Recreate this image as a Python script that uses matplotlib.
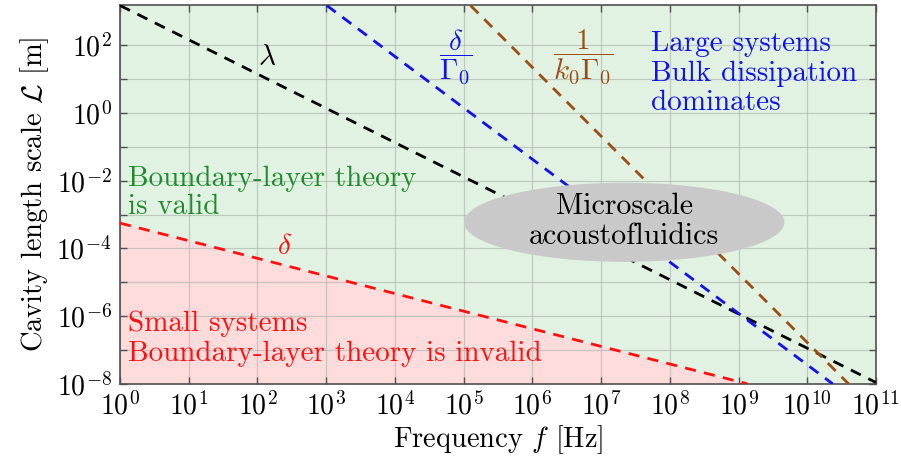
import matplotlib
matplotlib.use("Agg")
import matplotlib.pyplot as plt
from matplotlib.patches import Ellipse

plt.rcParams['font.family'] = 'serif'
plt.rcParams['font.serif'] = ['cmr10']
plt.rcParams['mathtext.fontset'] = 'cm'
plt.rcParams['axes.formatter.use_mathtext'] = True

# end points of each straight (log-log) line
lambda_f = [1e0, 1e11]
lambda_L = [1.5e3, 1.1e-8]
delta_f = [1e0, 1.35e9]
delta_L = [5.6e-4, 1e-8]
dgam_f = [1.02e3, 2.35e10]
dgam_L = [1.5e3, 1e-8]
kgam_f = [1.26e5, 4.0e10]
kgam_L = [1.5e3, 1e-8]

xticks = [10.0**n for n in range(0, 12)]
xlabels = [r'$10^{%d}$' % n for n in range(0, 12)]
yticks = [10.0**n for n in range(-8, 3)]
ylabels = [r'$10^{%d}$' % n if n % 2 == 0 else '' for n in range(-8, 3)]

green_bg = '#e1f2e3'
pink_bg = '#ffdcdc'
blue = '#1010f0'
brown = '#9a4e14'
green_txt = '#1e8c2a'
red = '#ff1010'

fig = plt.figure(figsize=(9.01, 4.57), dpi=100)
ax = fig.add_axes([0.1332, 0.160, 0.839, 0.828])
ax.set_xscale('log')
ax.set_yscale('log')
ax.set_xlim(1e0, 1e11)
ax.set_ylim(1e-8, 1.5e3)
ax.set_facecolor(green_bg)

ax.fill_between(delta_f, delta_L, 1e-8, color=pink_bg, lw=0, zorder=0)

ax.set_xticks(xticks)
ax.set_xticklabels(xlabels)
ax.set_yticks(yticks)
ax.set_yticklabels(ylabels)
ax.minorticks_off()
ax.tick_params(direction='in', length=5, width=1, top=True, right=True,
               labelsize=20, color='#505050', pad=6)
ax.grid(True, color='#b0b9b0', lw=0.9, alpha=0.7, zorder=1)
ax.set_axisbelow(True)
for s in ax.spines.values():
    s.set_color('#505050')
    s.set_linewidth(1.2)

lw = 2.0
ax.plot(lambda_f, lambda_L, ls=(0, (4, 3)), color='black', lw=lw, zorder=3)
ax.plot(dgam_f, dgam_L, ls=(0, (4, 3)), color=blue, lw=lw, zorder=3)
ax.plot(kgam_f, kgam_L, ls=(0, (4, 3)), color=brown, lw=lw, zorder=3)
ax.plot(delta_f, delta_L, ls=(0, (4, 3)), color=red, lw=lw, zorder=3)

ell = Ellipse((0.667, 0.427), 0.424, 0.209, transform=ax.transAxes,
              facecolor='#c9c9c9', edgecolor='none', zorder=4)
ax.add_patch(ell)
ax.text(0.667, 0.43, 'Microscale\nacoustofluidics', transform=ax.transAxes,
        ha='center', va='center', fontsize=21.5, color='black', zorder=5,
        linespacing=1.15)

ax.text(1.4e2, 42, r'$\lambda$', fontsize=21, color='black', ha='center', va='center')
ax.text(2.45e2, 1.1e-4, r'$\delta$', fontsize=21, color=red, ha='center', va='center')
ax.text(7.6e4, 45, r'$\dfrac{\delta}{\Gamma_0}$', fontsize=21, color=blue,
        ha='center', va='center')
ax.text(5.6e6, 45, r'$\dfrac{1}{k_0\Gamma_0}$', fontsize=21, color=brown,
        ha='center', va='center')

ax.text(0.011, 0.505, 'Boundary-layer theory\nis valid', transform=ax.transAxes,
        fontsize=21, color=green_txt, ha='left', va='center', linespacing=1.12)
ax.text(0.011, 0.12, 'Small systems\nBoundary-layer theory is invalid',
        transform=ax.transAxes, fontsize=21, color=red, ha='left', va='center',
        linespacing=1.2)
ax.text(0.702, 0.82, 'Large systems\nBulk dissipation\ndominates',
        transform=ax.transAxes, fontsize=21, color=blue, ha='left', va='center',
        linespacing=1.15)

ax.set_xlabel(r'Frequency $f$ [Hz]', fontsize=20.5, labelpad=2)
ax.set_ylabel(r'Cavity length scale $\mathcal{L}$ [m]', fontsize=20.5, labelpad=4)

fig.savefig('out.png', dpi=100)
